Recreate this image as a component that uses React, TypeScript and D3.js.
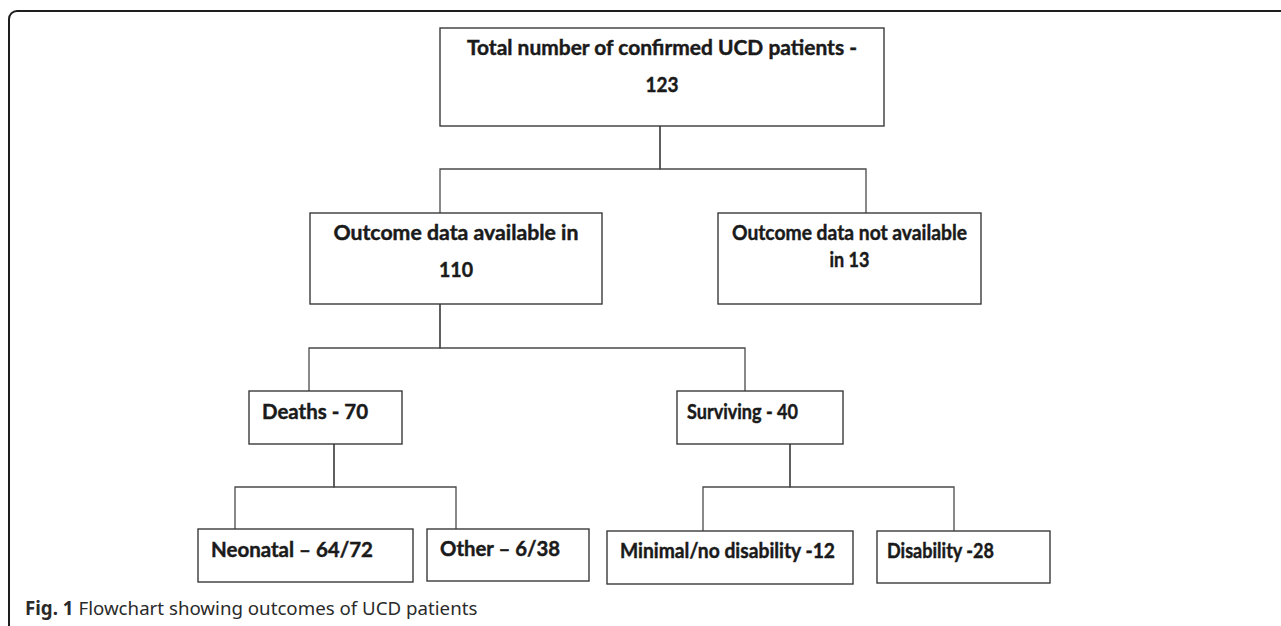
import React from 'react'
import * as d3 from 'd3'

// flowchart content
const nodeIds = ['total', 'avail', 'notAvail', 'deaths', 'surviving', 'neonatal', 'other', 'minimal', 'disability']
const parentIds = ['', 'total', 'total', 'avail', 'avail', 'deaths', 'deaths', 'surviving', 'surviving']
const labelLines = [
    ['Total number of confirmed UCD patients -', '123'],
    ['Outcome data available in', '110'],
    ['Outcome data not available', 'in 13'],
    ['Deaths - 70'],
    ['Surviving - 40'],
    ['Neonatal \u2013 64/72'],
    ['Other \u2013 6/38'],
    ['Minimal/no disability -12'],
    ['Disability -28'],
]
const captionBold = 'Fig. 1'
const captionText = 'Flowchart showing outcomes of UCD patients'

// layout (pixels): box [x0, y0, x1, y1], where a line enters the top, where it leaves the bottom
const boxes = [
    [440, 28, 884, 126],
    [310, 213, 602, 304],
    [718, 213, 981, 304],
    [249, 391, 402, 444],
    [677, 391, 843, 444],
    [198, 529, 413, 582],
    [427, 529, 589, 581],
    [607, 531, 853, 584],
    [877, 531, 1050, 583],
]
const inX = [0, 440, 866, 309, 745, 235, 456, 703, 954]
const outX = [660, 440, 0, 334, 790, 0, 0, 0, 0]
const barY = [169, 348, 0, 487, 487, 0, 0, 0, 0]
// text: anchor x (null = centred), baselines, line widths
const textX = [null, null, null, 262, 687, 211, 440, 620, 887]
const textY = [[55, 92], [240, 277], [240, 267], [419], [419], [557], [556], [558], [558]]
const textW = [[390, 33], [245, 34], [235, 40], [106], [111], [162], [120], [215], [107]]

const W = 1281, H = 626

const App = () => {
    const nodes = nodeIds.map((id, i) => ({ id, parent: parentIds[i] || null, i }))
    const root = d3.stratify<any>().id(d => d.id).parentId(d => d.parent)(nodes)

    const links = root.links().map((l: any) => {
        const p = l.source.data.i, c = l.target.data.i
        const path = d3.path()
        path.moveTo(outX[p], boxes[p][3])
        path.lineTo(outX[p], barY[p])
        path.lineTo(inX[c], barY[p])
        path.lineTo(inX[c], boxes[c][1])
        return path.toString()
    })

    const border = d3.path()
    border.moveTo(9, H)
    border.lineTo(9, 19)
    border.arcTo(9, 11, 17, 11, 8)
    border.lineTo(W, 11)

    return (
        <svg width={W} height={H} style={{ position: 'fixed', left: 0, top: 0, background: '#fff' }}>
            <path d={border.toString()} fill="none" stroke="#1e1e1e" strokeWidth={2} />
            <g fill="none" stroke="#4a4a4a" strokeWidth={1.3}>
                {links.map((d, i) => <path key={i} d={d} />)}
            </g>
            {root.descendants().map((n: any) => {
                const i = n.data.i
                const [x0, y0, x1, y1] = boxes[i]
                const centred = textX[i] === null
                return (
                    <g key={n.id}>
                        <rect x={x0} y={y0} width={x1 - x0} height={y1 - y0}
                            fill="#fff" stroke="#3a3a3a" strokeWidth={1.4} />
                        {labelLines[i].map((t, j) => (
                            <text key={j}
                                x={centred ? (x0 + x1) / 2 : textX[i]}
                                y={textY[i][j]}
                                textAnchor={centred ? 'middle' : 'start'}
                                textLength={textW[i][j]}
                                lengthAdjust="spacingAndGlyphs"
                                fontFamily="Lato, 'Open Sans', sans-serif"
                                fontWeight="bold"
                                fontSize={21}
                                fill="#1a1a1a"
                                stroke="#1a1a1a"
                                strokeWidth={0.45}>{t}</text>
                        ))}
                    </g>
                )
            })}
            <text x={25} y={615} fontFamily="'Noto Sans', 'Open Sans', sans-serif" fontSize={18.7} fill="#2a2a2a">
                <tspan fontWeight="bold">{captionBold}</tspan>
                <tspan dx={5}>{captionText}</tspan>
            </text>
        </svg>
    )
}

export default App
